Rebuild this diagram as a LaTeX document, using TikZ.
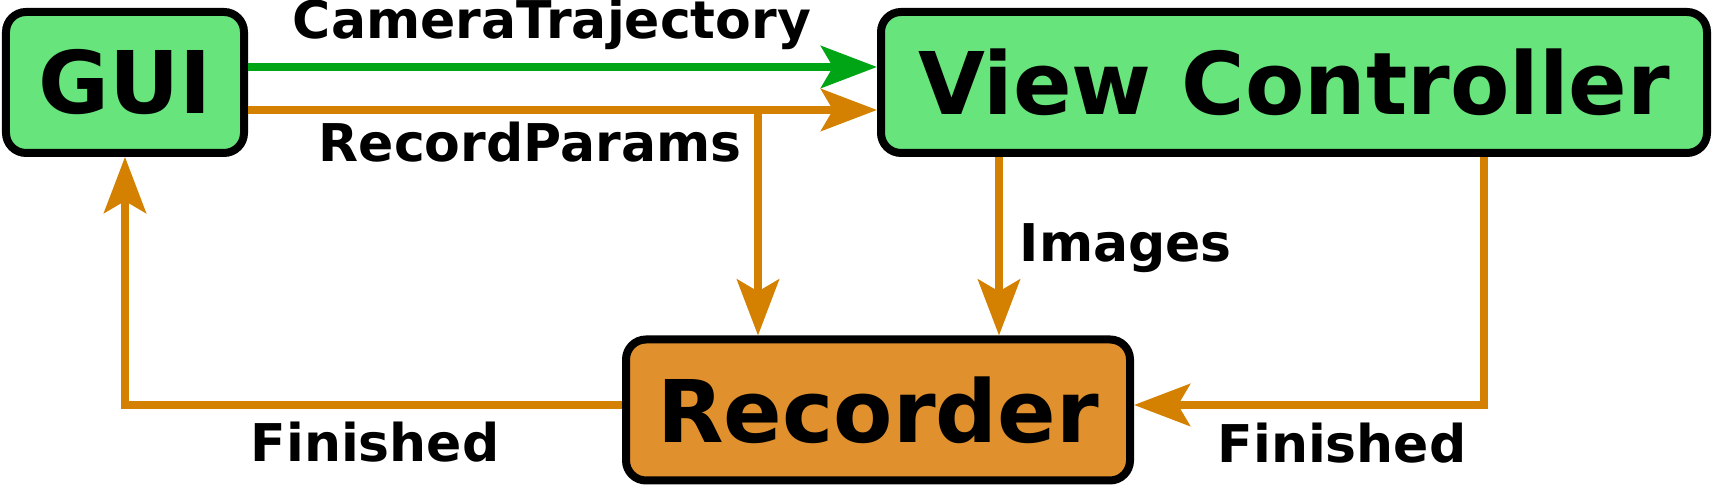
\documentclass[tikz,border=0pt]{standalone}
\usepackage{fontspec}
\setmainfont{DejaVu Sans}
\usepackage{xcolor}
\usepackage{tikz}
\usetikzlibrary{arrows.meta,positioning}
\definecolor{boxgreen}{HTML}{67E47B}
\definecolor{linegreen}{HTML}{00A516}
\definecolor{lineorange}{HTML}{D48000}
\definecolor{boxorange}{HTML}{E0902C}

\begin{document}
\begin{tikzpicture}[>={Stealth[length=5.6mm,width=4.2mm,inset=1.2mm]},
block/.style={draw=black,line width=0.8mm,rounded corners=2mm,minimum height=14.1mm,inner sep=0pt,font=\fontsize{24.6}{30}\selectfont\bfseries},
flow/.style={->,line width=0.76mm,draw=lineorange},
lbl/.style={anchor=base,inner sep=0pt,font=\fontsize{14.8}{17}\selectfont\bfseries}]
\useasboundingbox (0,0) rectangle (17.14,4.86);
\node[block,fill=boxgreen,minimum width=23.8mm](gui) at (1.25,4.035){GUI};
\node[block,fill=boxgreen,minimum width=82.6mm](vc) at (12.94,4.035){View Controller};
\node[block,fill=boxorange,minimum width=50.4mm](rec) at (8.78,0.76){Recorder};
\coordinate (rp) at (7.58,3.76);
\coordinate (im) at (9.99,0);
\coordinate (fr) at (14.84,0);
\draw[flow,draw=linegreen]([yshift=1.55mm]gui.east)--([yshift=1.55mm]vc.west);
\draw[flow]([yshift=-2.75mm]gui.east)--([yshift=-2.75mm]vc.west);
\draw[flow](rp)--(rp |- rec.north);
\draw[flow](im |- vc.south)--(im |- rec.north);
\draw[flow](fr |- vc.south)|-([yshift=0.5mm]rec.east);
\draw[flow]([yshift=0.5mm]rec.west)-|(gui.south);
\node[lbl](camtraj) at (5.52,4.47){CameraTrajectory};
\node[lbl](recparams) at (5.30,3.24){RecordParams};
\node[lbl,anchor=base west](images) at (10.19,2.24){Images};
\node[lbl](finleft) at (3.75,0.24){Finished};
\node[lbl](finright) at (13.42,0.23){Finished};
\end{tikzpicture}
\end{document}
